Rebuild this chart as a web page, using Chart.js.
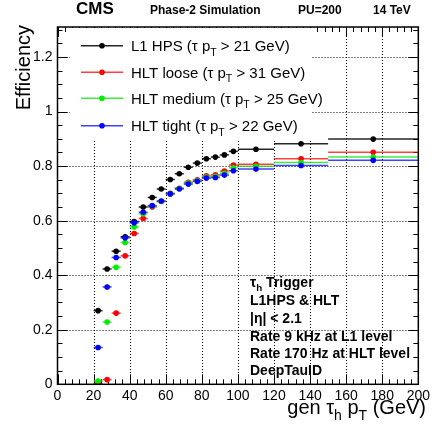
<!DOCTYPE html>
<html>
<head>
<meta charset="utf-8">
<title>Tau trigger efficiency</title>
<script src="https://cdn.jsdelivr.net/npm/chart.js@4/dist/chart.umd.min.js"></script>
<style>
html, body { margin: 0; padding: 0; background: #fff; }
#wrap { width: 433px; height: 428px; }
</style>
</head>
<body>
<div id="wrap"><canvas id="js--chart" width="433" height="428"></canvas></div>
<script>
// bins in gen tau_h pT (GeV)
const binLow    = [20, 25, 30, 35, 40, 45, 50, 55, 60, 65, 70, 75, 80, 85, 90, 95, 100, 120, 150];
const binHigh   = [25, 30, 35, 40, 45, 50, 55, 60, 65, 70, 75, 80, 85, 90, 95, 100, 120, 150, 200];
const binCenter = [22.5, 27.5, 32.5, 37.5, 42.5, 47.5, 52.5, 57.5, 62.5, 67.5, 72.5, 77.5, 82.5, 87.5, 92.5, 97.5, 110, 135, 175];

const effL1HPS     = [0.270, 0.423, 0.488, 0.541, 0.597, 0.650, 0.685, 0.716, 0.751, 0.772, 0.796, 0.811, 0.827, 0.833, 0.841, 0.854, 0.862, 0.882, 0.899];
const effHltLoose  = [0.003, 0.017, 0.261, 0.471, 0.553, 0.608, 0.650, 0.670, 0.700, 0.719, 0.741, 0.750, 0.764, 0.768, 0.782, 0.804, 0.807, 0.827, 0.851];
const effHltMedium = [0.012, 0.228, 0.429, 0.520, 0.577, 0.625, 0.653, 0.671, 0.699, 0.718, 0.738, 0.747, 0.760, 0.763, 0.774, 0.794, 0.799, 0.813, 0.833];
const effHltTight  = [0.135, 0.357, 0.465, 0.537, 0.592, 0.631, 0.655, 0.672, 0.698, 0.716, 0.734, 0.744, 0.756, 0.758, 0.767, 0.783, 0.789, 0.802, 0.821];
const effErr       = [0.006, 0.008, 0.008, 0.008, 0.008, 0.007, 0.007, 0.007, 0.007, 0.006, 0.006, 0.006, 0.006, 0.006, 0.006, 0.006, 0.004, 0.004, 0.004];

const seriesNames = ["L1 HPS", "HLT loose", "HLT medium", "HLT tight"];
const ptCuts = [21, 31, 25, 22];
const xTicks = [0, 20, 40, 60, 80, 100, 120, 140, 160, 180, 200];
const yTicks = [0, 0.2, 0.4, 0.6, 0.8, 1, 1.2];
const infoLines = ["Trigger", "L1HPS & HLT", "|\u03b7| < 2.1", "Rate 9 kHz at L1 level", "Rate 170 Hz at HLT level", "DeepTauID"];

const allEff = [effL1HPS, effHltLoose, effHltMedium, effHltTight];
const markerColors = ["#000000", "#ff0000", "#00ee00", "#0000ff"];
const barColors = ["rgba(0,0,0,0.85)", "rgba(255,0,0,0.75)", "rgba(0,230,0,0.75)", "rgba(0,0,255,0.75)"];

const FONT = "'Liberation Sans', Arial, Helvetica, sans-serif";
Chart.defaults.font.family = FONT;
Chart.defaults.color = "#000";

// text with normal / subscript pieces, returns width
function richText(ctx, x, y, parts, size, bold, draw) {
    let w = 0;
    parts.forEach(p => {
        const s = p[1] ? size * 0.7 : size;
        ctx.font = (bold ? "bold " : "") + s + "px " + FONT;
        if (draw) ctx.fillText(p[0], x + w, y + (p[1] ? size * 0.3 : 0));
        w += ctx.measureText(p[0]).width;
    });
    return w;
}

function line(ctx, x1, y1, x2, y2) {
    ctx.beginPath();
    ctx.moveTo(x1, y1);
    ctx.lineTo(x2, y2);
    ctx.stroke();
}

const rootStyle = {
    id: "rootStyle",
    beforeDatasetsDraw(chart) {
        const ctx = chart.ctx, a = chart.chartArea, xs = chart.scales.x, ys = chart.scales.y;
        ctx.save();
        // dotted grid
        ctx.strokeStyle = "#000";
        ctx.lineWidth = 1;
        ctx.setLineDash([1, 2]);
        xTicks.forEach(v => {
            if (v <= xs.min || v >= xs.max) return;
            const px = Math.round(xs.getPixelForValue(v)) + 0.5;
            line(ctx, px, a.top, px, a.bottom);
        });
        yTicks.forEach(v => {
            if (v <= ys.min || v >= ys.max) return;
            const py = Math.round(ys.getPixelForValue(v)) + 0.5;
            line(ctx, a.left, py, a.right, py);
        });
        ctx.setLineDash([]);
        // inward ticks on all four sides
        for (let v = 0; v <= 200; v += 4) {
            const px = Math.round(xs.getPixelForValue(v)) + 0.5;
            const len = v % 20 === 0 ? 10 : 5;
            line(ctx, px, a.bottom, px, a.bottom - len);
            line(ctx, px, a.top, px, a.top + len);
        }
        for (let i = 0; i * 0.05 <= ys.max; i++) {
            const py = Math.round(ys.getPixelForValue(i * 0.05)) + 0.5;
            const len = i % 4 === 0 ? 10 : 5;
            line(ctx, a.left, py, a.left + len, py);
            line(ctx, a.right, py, a.right - len, py);
        }
        // white legend box hides grid and ticks behind it
        ctx.fillStyle = "#fff";
        ctx.fillRect(70, a.top + 1, 242, 140 - a.top);
        // error bars
        ctx.lineWidth = 1.5;
        allEff.forEach((eff, k) => {
            ctx.strokeStyle = barColors[k];
            eff.forEach((v, i) => {
                const py = ys.getPixelForValue(v);
                const px = xs.getPixelForValue(binCenter[i]);
                line(ctx, xs.getPixelForValue(binLow[i]), py, xs.getPixelForValue(binHigh[i]), py);
                line(ctx, px, ys.getPixelForValue(v - effErr[i]), px, ys.getPixelForValue(v + effErr[i]));
            });
        });
        ctx.restore();
    },
    afterDatasetsDraw(chart) {
        const ctx = chart.ctx, a = chart.chartArea;
        ctx.save();
        // frame
        ctx.strokeStyle = "#000";
        ctx.lineWidth = 1.5;
        ctx.strokeRect(a.left, a.top, a.right - a.left, a.bottom - a.top);

        ctx.fillStyle = "#000";
        ctx.textBaseline = "alphabetic";
        // header
        ctx.font = "bold 17px " + FONT;
        ctx.fillText("CMS", 76, 14);
        ctx.font = "bold 12px " + FONT;
        ctx.fillText("Phase-2 Simulation", 150, 14);
        ctx.fillText("PU=200", 298, 14);
        ctx.fillText("14 TeV", 373, 14);

        // legend
        const rows = [45.7, 72.3, 98.3, 125.7];
        rows.forEach((ry, k) => {
            ctx.strokeStyle = barColors[k];
            ctx.lineWidth = 1.5;
            line(ctx, 81, ry, 123, ry);
            ctx.fillStyle = markerColors[k];
            ctx.beginPath();
            ctx.arc(102, ry, 2.8, 0, Math.PI * 2);
            ctx.fill();
            ctx.fillStyle = "#000";
            richText(ctx, 131, ry + 5.5, [[seriesNames[k] + " (\u03c4 p", 0], ["T", 1], [" > " + ptCuts[k] + " GeV)", 0]], 15, false, true);
        });

        // info box
        const infoY = [286.5, 305, 323, 341, 358, 375];
        infoLines.forEach((t, i) => {
            if (i === 0) {
                richText(ctx, 250, infoY[i], [["\u03c4", 0], ["h", 1], [" " + t, 0]], 14, true, true);
            } else {
                ctx.font = "bold 14px " + FONT;
                ctx.fillText(t, 250, infoY[i]);
            }
        });

        // x title, right aligned
        const xt = [["gen \u03c4", 0], ["h", 1], [" p", 0], ["T", 1], [" (GeV)", 0]];
        const w = richText(ctx, 0, 0, xt, 20, false, false);
        richText(ctx, 426 - w, 414, xt, 20, false, true);

        // y title, rotated, right aligned at the top
        ctx.translate(30, 25);
        ctx.rotate(-Math.PI / 2);
        ctx.textAlign = "right";
        ctx.font = "20px " + FONT;
        ctx.fillText("Efficiency", 0, 0);
        ctx.restore();
    }
};

function pointsOf(eff) {
    return binCenter.map((x, i) => ({ x: x, y: eff[i] }));
}

const datasets = allEff.map((eff, k) => ({
    label: seriesNames[k],
    data: pointsOf(eff),
    pointRadius: 2.8,
    pointBackgroundColor: markerColors[k],
    pointBorderWidth: 0,
    showLine: false,
    order: 3 - k
}));

const config = {
    type: "scatter",
    data: { datasets: datasets },
    options: {
        responsive: false,
        animation: false,
        devicePixelRatio: 1,
        events: [],
        layout: { padding: { top: 27, right: 12, left: 0, bottom: 0 } },
        plugins: { legend: { display: false }, tooltip: { enabled: false } },
        scales: {
            x: {
                type: "linear", min: 0, max: 200,
                grid: { display: false, drawTicks: false, tickLength: 0 }, border: { display: false },
                afterFit: s => { s.height = 43.7; },
                afterBuildTicks: s => { s.ticks = xTicks.map(v => ({ value: v })); },
                ticks: { font: { size: 14 }, color: "#000", padding: 3, autoSkip: false, maxRotation: 0,
                         callback: v => String(v) }
            },
            y: {
                type: "linear", min: 0, max: 1.31,
                grid: { display: false, drawTicks: false, tickLength: 0 }, border: { display: false },
                afterFit: s => { s.width = 57.5; },
                afterBuildTicks: s => { s.ticks = yTicks.map(v => ({ value: v })); },
                ticks: { font: { size: 14 }, color: "#000", padding: 5,
                         callback: v => String(+v.toFixed(1)) }
            }
        }
    },
    plugins: [rootStyle]
};

new Chart(document.getElementById("js--chart"), config);
</script>
</body>
</html>
